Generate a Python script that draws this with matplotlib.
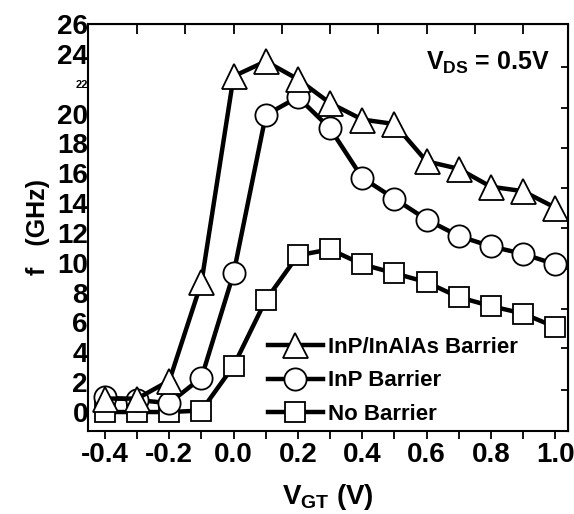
import numpy as np
import matplotlib
matplotlib.use("Agg")
import matplotlib.pyplot as plt

plt.rcParams['font.family'] = ['Liberation Sans', 'DejaVu Sans']
plt.rcParams['font.weight'] = 'bold'
plt.rcParams['axes.labelweight'] = 'bold'
plt.rcParams['mathtext.fontset'] = 'custom'
plt.rcParams['mathtext.rm'] = 'Liberation Sans:bold'
plt.rcParams['mathtext.it'] = 'Liberation Sans:bold'
plt.rcParams['mathtext.bf'] = 'Liberation Sans:bold'

# gate voltage V_GT (V)
vgt = [-0.4, -0.3, -0.2, -0.1, 0.0, 0.1, 0.2, 0.3, 0.4, 0.5, 0.6, 0.7, 0.8, 0.9, 1.0]
# f_T (GHz)
ft_inalas = [0.9, 0.9, 2.1, 8.7, 22.5, 23.5, 22.3, 20.7, 19.6, 19.3, 16.8, 16.3, 15.1, 14.8, 13.7]
ft_inp = [1.0, 0.8, 0.6, 2.3, 9.3, 19.9, 21.1, 19.0, 15.7, 14.3, 12.9, 11.8, 11.1, 10.6, 9.9]
ft_none = [0.0, 0.0, 0.0, 0.1, 3.1, 7.5, 10.5, 10.9, 9.9, 9.3, 8.7, 7.7, 7.1, 6.6, 5.7]

xtick_pos = [-0.4, -0.3, -0.2, -0.1, 0.0, 0.1, 0.2, 0.3, 0.4, 0.5, 0.6, 0.7, 0.8, 0.9, 1.0]
xtick_labels = ['-0.4', '', '-0.2', '', '0.0', '', '0.2', '', '0.4', '', '0.6', '', '0.8', '', '1.0']
yticks = list(range(0, 27, 2))
top_ticks = [-0.3, -0.15, 0.0, 0.15, 0.3, 0.45, 0.6, 0.75, 0.9]
right_ticks = [1.5, 4.3, 6.9, 9.6, 12.3, 15.0, 17.7, 20.4, 23.1]

fig = plt.figure(figsize=(5.74, 5.14), dpi=100)
ax = fig.add_axes([0.1533, 0.1615, 0.8362, 0.7918])

lw = 3.2
mew = 1.3
l3, = ax.plot(vgt, ft_none, '-', color='black', lw=lw, marker='s', ms=15,
              mfc='white', mec='black', mew=mew, label='No Barrier', zorder=2)
l2, = ax.plot(vgt, ft_inp, '-', color='black', lw=lw, marker='o', ms=16,
              mfc='white', mec='black', mew=mew, label='InP Barrier', zorder=3)
l1, = ax.plot(vgt, ft_inalas, '-', color='black', lw=lw, marker='^', ms=18,
              mfc='white', mec='black', mew=mew, label='InP/InAlAs Barrier', zorder=4)

ax.set_xlim(-0.453, 1.04)
ax.set_ylim(-1.27, 25.87)

ax.set_xticks(xtick_pos)
ax.set_xticklabels(xtick_labels)
ax.tick_params(axis='x', direction='out', length=6, width=1.3, labelsize=20, pad=2)

ax.set_yticks(yticks)
ax.set_yticklabels([str(v) for v in yticks])
ax.tick_params(axis='y', direction='in', length=0, labelsize=20, pad=0)
for lab in ax.get_yticklabels():
    if lab.get_text() == '22':
        lab.set_fontsize(8)

for s in ax.spines.values():
    s.set_linewidth(1.5)

top = ax.secondary_xaxis('top')
top.set_xticks(top_ticks)
top.tick_params(direction='in', length=7, width=1.3, labeltop=False)
right = ax.secondary_yaxis('right')
right.set_yticks(right_ticks)
right.tick_params(direction='in', length=5, width=1.3, labelright=False)

ax.set_xlabel('V$_{GT}$ (V)', fontsize=20, labelpad=10)
ax.set_ylabel('f   (GHz)', fontsize=18, labelpad=5)

ax.text(0.9625, 0.905, 'V$_{DS}$ = 0.5V', transform=ax.transAxes,
        fontsize=18, ha='right', va='center')

ax.legend(handles=[l1, l2, l3], loc='lower left', bbox_to_anchor=(0.365, 0.005),
          frameon=False, fontsize=16, handlelength=2.5, handletextpad=0.2,
          labelspacing=0.55, borderpad=0.2, borderaxespad=0)

plt.savefig("out.png", dpi=100)
